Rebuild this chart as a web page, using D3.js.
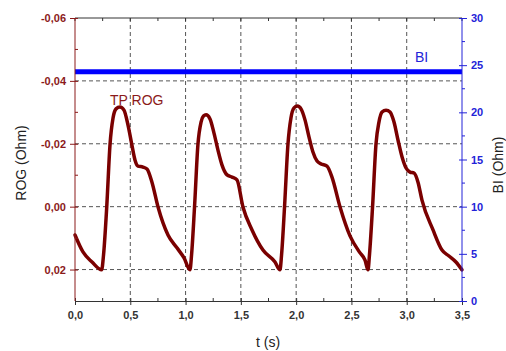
<!DOCTYPE html>
<html><head><meta charset="utf-8">
<script src="https://cdn.jsdelivr.net/npm/d3@7"></script>
<style>body{margin:0;background:#fff}svg{display:block}text{font-family:"Liberation Sans",Arial,sans-serif}</style>
</head><body>
<svg id="c" width="506" height="351"></svg>
<script>
const timeS = [0,0.072,0.154,0.241,0.258,0.287,0.317,0.344,0.371,0.407,0.443,0.479,0.513,0.543,0.570,0.615,0.651,0.696,0.751,0.841,0.922,0.986,1.040,
1.054,1.081,1.112,1.140,1.162,1.185,1.221,1.257,1.293,1.329,1.375,1.420,1.465,1.519,1.601,1.700,1.809,1.854,
1.868,1.895,1.926,1.953,1.981,2.012,2.044,2.080,2.116,2.152,2.189,2.225,2.279,2.324,2.397,2.487,2.578,2.623,2.650,
2.663,2.691,2.722,2.749,2.777,2.813,2.849,2.885,2.921,2.958,2.994,3.030,3.066,3.102,3.138,3.238,3.319,3.382,3.445,3.500];
const rogOhm = [0.0090,0.0144,0.0176,0.0201,0.0154,0.0001,-0.0199,-0.0282,-0.0311,-0.0317,-0.0307,-0.0260,-0.0199,-0.0148,-0.0129,-0.0126,-0.0120,-0.0078,0.0001,0.0090,0.0131,0.0163,0.0201,
0.0154,0.0001,-0.0199,-0.0269,-0.0288,-0.0292,-0.0279,-0.0234,-0.0180,-0.0133,-0.0101,-0.0094,-0.0085,0.0001,0.0074,0.0138,0.0176,0.0201,
0.0154,0.0001,-0.0199,-0.0282,-0.0314,-0.0320,-0.0311,-0.0276,-0.0222,-0.0174,-0.0145,-0.0136,-0.0129,-0.0094,0.0001,0.0093,0.0147,0.0170,0.0201,
0.0154,0.0001,-0.0199,-0.0269,-0.0301,-0.0307,-0.0301,-0.0269,-0.0212,-0.0158,-0.0123,-0.0110,-0.0107,-0.0078,-0.0021,0.0074,0.0138,0.0157,0.0176,0.0201];
const biTime = [0, 3.5];
const biOhm = [24.3, 24.3];
const xTicks = [0,0.5,1.0,1.5,2.0,2.5,3.0,3.5];
const rogTicks = [-0.06,-0.04,-0.02,0.00,0.02];
const biTicks = [0,5,10,15,20,25,30];
const seriesNames = ["TP ROG","BI"];

const svg = d3.select("#c");
const L=75,R=462,T=18,B=301;
const x = d3.scaleLinear().domain([0,3.5]).range([L,R]);
const yL = d3.scaleLinear().domain([-0.06,0.03]).range([T,B]);
const yR = d3.scaleLinear().domain([30,0]).range([T,B]);
const fmt = d => d3.format(".2f")(d).replace(".",",").replace("−","-");
const fmtX = d => d3.format(".1f")(d).replace(".",",");
const red="#8b1a1a", blue="#2323d8", grid="#555";
const FF="Liberation Sans, Arial, sans-serif";

// grid
const g = svg.append("g");
xTicks.filter(d=>d>0&&d<3.5).forEach(d=>{
  g.append("line").attr("x1",x(d)).attr("x2",x(d)).attr("y1",T).attr("y2",B)
   .attr("stroke",grid).attr("stroke-width",1).attr("stroke-dasharray","4,3");
});
rogTicks.filter(d=>d>-0.06).forEach(d=>{
  g.append("line").attr("x1",L).attr("x2",R).attr("y1",yL(d)).attr("y2",yL(d))
   .attr("stroke",grid).attr("stroke-width",1).attr("stroke-dasharray","4,3");
});

// BI line
const biData = biTime.map((t,i)=>({t,v:biOhm[i]}));
svg.append("path").datum(biData).attr("fill","none").attr("stroke","#0000ff").attr("stroke-width",5)
  .attr("d",d3.line().x(d=>x(d.t)).y(d=>yR(d.v)));

// ROG curve
const rogData = timeS.map((t,i)=>({t,v:rogOhm[i]}));
svg.append("path").datum(rogData).attr("fill","none").attr("stroke","#7a0000").attr("stroke-width",3.5)
  .attr("stroke-linejoin","round").attr("stroke-linecap","round")
  .attr("d",d3.line().x(d=>x(d.t)).y(d=>yL(d.v)).curve(d3.curveMonotoneX));

// top border + inner ticks
svg.append("line").attr("x1",L).attr("x2",R).attr("y1",T).attr("y2",T).attr("stroke","#333").attr("stroke-width",1);
const minorX = d3.range(0,3.51,0.25);
minorX.forEach(d=>{
  svg.append("line").attr("x1",x(d)).attr("x2",x(d)).attr("y1",T).attr("y2",T+3).attr("stroke","#333");
});

// bottom axis
const xa = svg.append("g").attr("transform",`translate(0,${B})`)
  .call(d3.axisBottom(x).tickValues(xTicks).tickFormat(fmtX).tickSize(4).tickPadding(6));
xa.select(".domain").attr("stroke","#333");
xa.selectAll(".tick line").attr("stroke","#333").attr("y1",-3);
xa.selectAll("text").attr("fill","#333").attr("font-size",11).attr("font-weight","bold").attr("font-family",FF);
minorX.filter((d,i)=>i%2===1).forEach(d=>{
  svg.append("line").attr("x1",x(d)).attr("x2",x(d)).attr("y1",B-3).attr("y2",B).attr("stroke","#333");
});

// left axis
const ya = svg.append("g").attr("transform",`translate(${L},0)`)
  .call(d3.axisLeft(yL).tickValues(rogTicks).tickFormat(fmt).tickSize(5).tickPadding(4));
ya.select(".domain").attr("stroke",red).attr("d",`M0,${T}V${B}`);
ya.selectAll(".tick line").attr("stroke",red).attr("x2",3).attr("x1",-5);
ya.selectAll("text").attr("fill",red).attr("font-size",11).attr("font-weight","bold").attr("font-family",FF);
d3.range(-0.05,0.03,0.02).forEach(d=>{
  svg.append("line").attr("x1",L).attr("x2",L+3).attr("y1",yL(d)).attr("y2",yL(d)).attr("stroke",red);
});

// right axis
const yb = svg.append("g").attr("transform",`translate(${R},0)`)
  .call(d3.axisRight(yR).tickValues(biTicks).tickSize(5).tickPadding(4));
yb.select(".domain").attr("stroke",blue).attr("d",`M0,${T}V${B}`);
yb.selectAll(".tick line").attr("stroke",blue).attr("x1",-3).attr("x2",5);
yb.selectAll("text").attr("fill",blue).attr("font-size",11).attr("font-weight","bold").attr("font-family",FF);
d3.range(2.5,30,5).forEach(d=>{
  svg.append("line").attr("x1",R).attr("x2",R+3).attr("y1",yR(d)).attr("y2",yR(d)).attr("stroke",blue);
});

// titles
svg.append("text").attr("x",268).attr("y",347).attr("text-anchor","middle").attr("font-size",14).attr("fill","#222").text("t (s)");
svg.append("text").attr("transform","translate(26,163) rotate(-90)").attr("text-anchor","middle").attr("font-size",14).attr("fill","#222").text("ROG (Ohm)");
svg.append("text").attr("transform","translate(503,165) rotate(-90)").attr("text-anchor","middle").attr("font-size",14).attr("fill","#222").text("BI (Ohm)");

// labels
svg.append("text").attr("x",110).attr("y",105).attr("font-size",14).attr("fill",red).text(seriesNames[0]);
svg.append("text").attr("x",415).attr("y",62).attr("font-size",14).attr("fill",blue).text(seriesNames[1]);
</script>
</body></html>
